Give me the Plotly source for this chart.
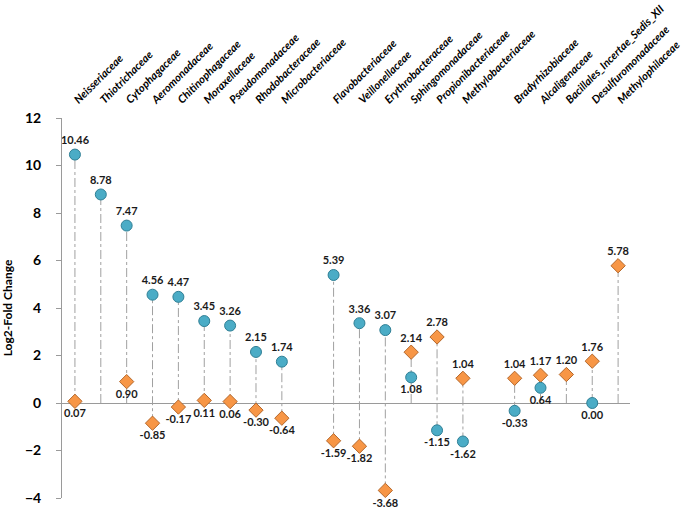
import plotly.graph_objects as go

# ---- data ----
families = ["Neisseriaceae", "Thiotrichaceae", "Cytophagaceae", "Aeromonadaceae",
            "Chitinophagaceae", "Moraxellaceae", "Pseudomonadaceae", "Rhodobacteraceae",
            "Microbacteriaceae", "Flavobacteriaceae", "Veillonellaceae", "Erythrobacteraceae",
            "Sphingomonadaceae", "Propionibacteriaceae", "Methylobacteriaceae",
            "Bradyrhizobiaceae", "Alcaligenaceae", "Bacillales_Incertae_Sedis_XII",
            "Desulfuromonadaceae", "Methylophilaceae"]
# category slot positions (groups separated by an empty slot)
positions = [1, 2, 3, 4, 5, 6, 7, 8, 9, 11, 12, 13, 14, 15, 16, 18, 19, 20, 21, 22]
blue_vals = [10.46, 8.78, 7.47, 4.56, 4.47, 3.45, 3.26, 2.15, 1.74, 5.39, 3.36, 3.07,
             1.08, -1.15, -1.62, -0.33, 0.64, None, 0.00, None]
orange_vals = [0.07, None, 0.90, -0.85, -0.17, 0.11, 0.06, -0.30, -0.64, -1.59, -1.82, -3.68,
               2.14, 2.78, 1.04, 1.04, 1.17, 1.20, 1.76, 5.78]
blue_label_pos = ["top center"] * 12 + ["bottom center"] * 8
orange_label_pos = ["bottom center"] * 12 + ["top center"] * 8
y_ticks = [-4, -2, 0, 2, 4, 6, 8, 10, 12]

FONT = "Lato"

# ---- drop lines ----
lx, ly = [], []
for p, b, o in zip(positions, blue_vals, orange_vals):
    vals = [0] + [v for v in (b, o) if v is not None]
    lx += [p, p, None]
    ly += [min(vals), max(vals), None]

fig = go.Figure()
fig.add_trace(go.Scatter(x=lx, y=ly, mode="lines",
                         line=dict(color="#a0a0a0", width=1, dash="dashdot"),
                         hoverinfo="skip", showlegend=False, cliponaxis=False))

bx = [p for p, v in zip(positions, blue_vals) if v is not None]
by = [v for v in blue_vals if v is not None]
bpos = [t for t, v in zip(blue_label_pos, blue_vals) if v is not None]
ox = [p for p, v in zip(positions, orange_vals) if v is not None]
oy = [v for v in orange_vals if v is not None]
opos = [t for t, v in zip(orange_label_pos, orange_vals) if v is not None]

fig.add_trace(go.Scatter(
    x=ox, y=oy, mode="markers+text", cliponaxis=False,
    marker=dict(symbol="diamond", size=11, color="#F79646",
                line=dict(color="#B5682B", width=1)),
    text=[f"{v:.2f}" for v in oy], textposition=opos,
    textfont=dict(family=FONT, size=11, color="#1a1a1a", weight="bold"),
    showlegend=False))
fig.add_trace(go.Scatter(
    x=bx, y=by, mode="markers+text", cliponaxis=False,
    marker=dict(symbol="circle", size=11, color="#4BACC6",
                line=dict(color="#2F7F95", width=1)),
    text=[f"{v:.2f}" for v in by], textposition=bpos,
    textfont=dict(family=FONT, size=11, color="#1a1a1a", weight="bold"),
    showlegend=False))

fig.update_layout(
    width=684, height=512,
    margin=dict(l=62, r=54, t=118, b=14),
    paper_bgcolor="white", plot_bgcolor="white",
    font=dict(family=FONT, color="#000000"),
    xaxis=dict(range=[0.5, 22.46], side="top", tickmode="array", automargin=False,
               tickvals=positions, ticktext=[f"<i>{f}</i>" for f in families],
               tickangle=-45, showgrid=False, zeroline=False, showline=False,
               ticks="", ticklabelstandoff=9,
               tickfont=dict(family=FONT, size=11, weight="bold")),
    yaxis=dict(range=[-4, 12], tickmode="array", tickvals=y_ticks, automargin=False,
               showgrid=False, zeroline=True, zerolinecolor="#9a9a9a", zerolinewidth=1,
               showline=True, linecolor="#9a9a9a", linewidth=1,
               ticks="outside", ticklen=5, tickcolor="#9a9a9a", ticklabelstandoff=12,
               tickfont=dict(family=FONT, size=14, weight="bold"),
               title=dict(text="Log2-Fold Change", standoff=22,
                          font=dict(family=FONT, size=12, weight="bold"))),
)

fig.write_html("out.html", config={"displayModeBar": False},
               post_script="document.body.style.margin='0';")
